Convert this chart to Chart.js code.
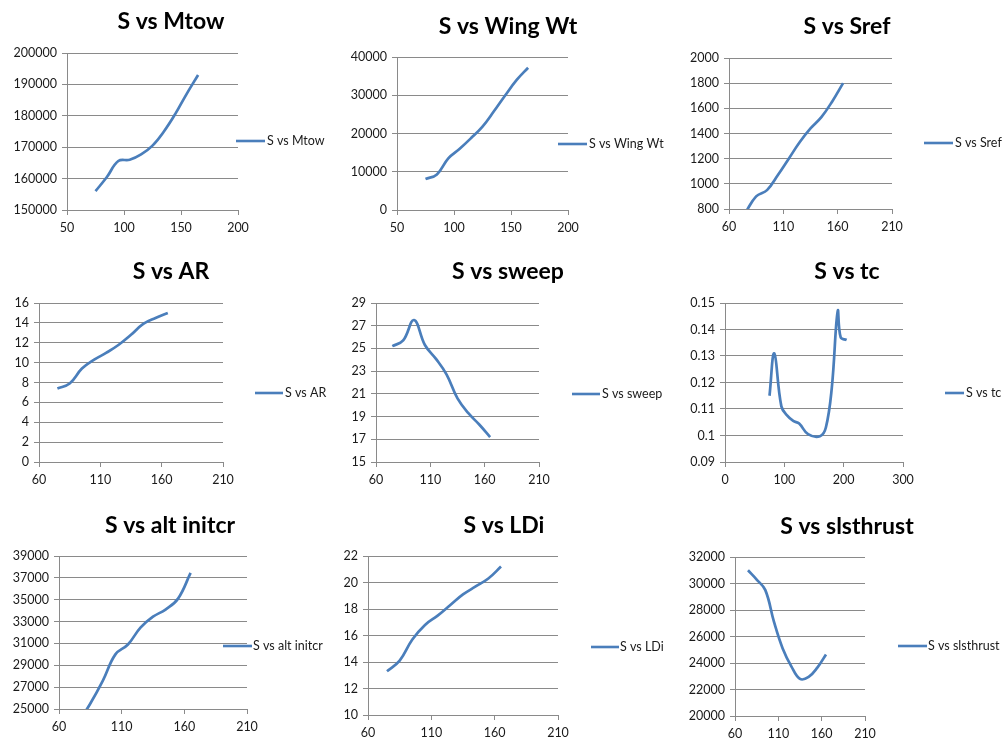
<!DOCTYPE html>
<html><head><meta charset="utf-8">
<script src="https://cdn.jsdelivr.net/npm/chart.js@4.4.1/dist/chart.umd.min.js"></script>
<style>
html,body{margin:0;padding:0;background:#fff;}
#wrap{position:relative;width:1005px;height:741px;overflow:hidden;background:#fff;}
.cell{position:absolute;}
canvas{display:block;}
</style></head><body><div id="wrap"></div>
<script>
// ---- data ----
const S = [75, 85, 95, 105, 115, 125, 135, 145, 155, 165];
const mtow = [156000, 160500, 165600, 166000, 167700, 170500, 175000, 180600, 187000, 193000];
const wingWt = [8100, 9300, 13500, 16000, 18800, 21800, 25800, 30000, 34000, 37200];
const sref = [770, 900, 950, 1070, 1200, 1330, 1440, 1530, 1655, 1800];
const ar = [7.4, 7.9, 9.4, 10.3, 11.0, 11.8, 12.8, 13.9, 14.5, 15.0];
const sweep = [25.2, 25.7, 27.5, 25.3, 24.1, 22.7, 20.6, 19.3, 18.3, 17.2];
const S_tc = [75, 83, 95, 105, 115, 125, 140, 160, 170, 180, 190, 195, 205];
const tc = [0.115, 0.131, 0.111, 0.1075, 0.1055, 0.1045, 0.1005, 0.0997, 0.103, 0.118, 0.147, 0.137, 0.136];
const altInitcr = [23700, 25500, 27600, 30000, 30900, 32450, 33450, 34100, 35100, 37450];
const ldi = [13.3, 14.1, 15.7, 16.8, 17.5, 18.3, 19.1, 19.7, 20.3, 21.2];
const slsThrust = [31000, 30300, 29500, 27100, 25100, 23750, 22800, 22950, 23650, 24650];

const titles = ['S vs Mtow', 'S vs Wing Wt', 'S vs Sref', 'S vs AR', 'S vs sweep', 'S vs tc', 'S vs alt initcr', 'S vs LDi', 'S vs slsthrust'];
const xTicks = [[50, 200, 50], [50, 200, 50], [60, 210, 50], [60, 210, 50], [60, 210, 50], [0, 300, 100], [60, 210, 50], [60, 210, 50], [60, 210, 50]];
const yTicks = [[150000, 200000, 10000], [0, 40000, 10000], [800, 2000, 200], [0, 16, 2], [15, 29, 2], [0.09, 0.15, 0.01], [25000, 39000, 2000], [10, 22, 2], [20000, 32000, 2000]];
const seriesX = [S, S, S, S, S, S_tc, S, S, S];
const seriesY = [mtow, wingWt, sref, ar, sweep, tc, altInitcr, ldi, slsThrust];

// ---- layout (page pixels) ----
const cells = [
  [0, 0, 335, 240], [335, 0, 335, 240], [670, 0, 335, 240],
  [0, 240, 335, 250], [335, 240, 335, 250], [670, 240, 335, 250],
  [0, 490, 335, 251], [335, 490, 335, 251], [670, 490, 335, 251]
];
const plots = [ // left, top, right, bottom
  [67, 53, 238, 210], [397, 57, 568, 210], [729, 58, 892, 209],
  [39, 303, 223, 462], [376, 303, 539, 462], [725, 303, 903, 462],
  [59, 556, 247, 709], [368, 556, 558, 715], [735, 557, 865, 716]
];
const titlePos = [[171, 22], [508, 27], [847, 27], [171, 272], [508, 272], [847, 272], [170, 526], [504, 526], [847, 527]];
const legendPos = [ // lineStart, lineEnd, y, textX
  [236, 265, 141, 267], [558, 587, 144, 589], [924, 953, 143, 955],
  [255, 283, 393, 285], [572, 600, 394, 602], [945, 964, 393, 966],
  [223, 252, 646, 253], [591, 619, 647, 620], [898, 927, 646, 928]
];

const LINE = '#4A7EBB';
const GRID = '#8A8A8A';
const TXT = '#1a1a1a';
const FONT = 'Lato';
const fmt = v => String(Math.round(v * 1000) / 1000);

const wrap = document.getElementById('wrap');

titles.forEach((title, i) => {
  const [cx, cy, cw, ch] = cells[i];
  const [pl, pt, pr, pb] = plots[i];
  const div = document.createElement('div');
  div.className = 'cell';
  div.style.left = cx + 'px'; div.style.top = cy + 'px';
  div.style.width = cw + 'px'; div.style.height = ch + 'px';
  const canvas = document.createElement('canvas');
  canvas.width = cw; canvas.height = ch;
  canvas.style.width = cw + 'px'; canvas.style.height = ch + 'px';
  div.appendChild(canvas);
  wrap.appendChild(div);

  const deco = {
    id: 'deco' + i,
    afterDraw(chart) {
      const ctx = chart.ctx;
      ctx.save();
      ctx.fillStyle = '#000';
      ctx.font = 'bold 23px ' + FONT;
      ctx.textAlign = 'center';
      ctx.textBaseline = 'middle';
      ctx.fillText(title, titlePos[i][0] - cx, titlePos[i][1] - cy);
      const [l0, l1, ly, tx] = legendPos[i];
      ctx.strokeStyle = LINE;
      ctx.lineWidth = 2.6;
      ctx.beginPath();
      ctx.moveTo(l0 - cx, ly - cy);
      ctx.lineTo(l1 - cx, ly - cy);
      ctx.stroke();
      ctx.fillStyle = TXT;
      ctx.font = '12.5px ' + FONT;
      ctx.textAlign = 'left';
      ctx.fillText(chart.data.datasets[0].label, tx - cx, ly - cy);
      ctx.restore();
    }
  };

  const xs = seriesX[i], ys = seriesY[i];
  new Chart(canvas, {
    type: 'scatter',
    data: {
      datasets: [{
        label: title,
        data: xs.map((x, k) => ({ x: x, y: ys[k] })),
        showLine: true,
        borderColor: LINE,
        backgroundColor: LINE,
        borderWidth: 2.7,
        pointRadius: 0,
        pointHoverRadius: 0,
        tension: 0.4,
        fill: false
      }]
    },
    options: {
      responsive: false,
      maintainAspectRatio: false,
      animation: false,
      events: [],
      layout: { padding: { left: 0, top: pt - cy, right: (cx + cw) - pr, bottom: 0 } },
      plugins: { legend: { display: false }, title: { display: false }, tooltip: { enabled: false } },
      scales: {
        x: {
          type: 'linear',
          min: xTicks[i][0], max: xTicks[i][1],
          ticks: { stepSize: xTicks[i][2], color: TXT, font: { family: FONT, size: 12.5 }, padding: 5, maxRotation: 0, callback: fmt },
          grid: { drawOnChartArea: false, drawTicks: true, tickLength: 5, color: GRID },
          border: { color: GRID, width: 1 },
          afterFit: s => { s.height = (cy + ch) - pb; }
        },
        y: {
          type: 'linear',
          min: yTicks[i][0], max: yTicks[i][1],
          ticks: { stepSize: yTicks[i][2], color: TXT, font: { family: FONT, size: 12.5 }, padding: 5, callback: fmt },
          grid: { drawTicks: true, tickLength: 5, color: GRID },
          border: { color: GRID, width: 1 },
          afterFit: s => { s.width = pl - cx; }
        }
      }
    },
    plugins: [deco]
  });
});
</script>
</body></html>
